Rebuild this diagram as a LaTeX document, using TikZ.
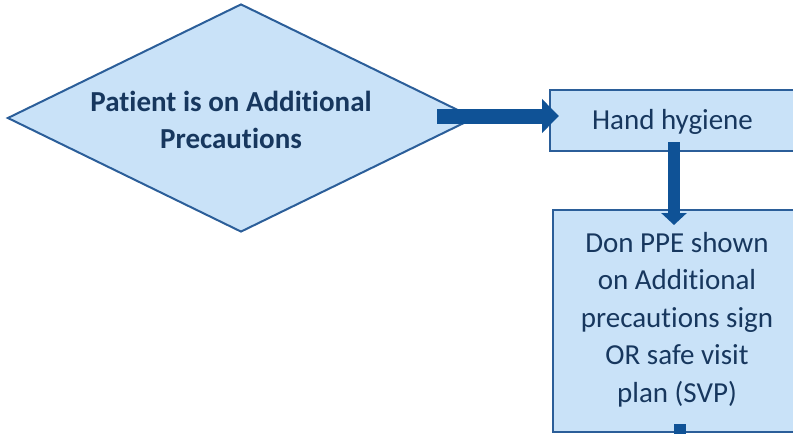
\documentclass[tikz,border=0pt]{standalone}
\usepackage{fontspec}
\setmainfont{Carlito}[Ligatures=NoCommon]
\usetikzlibrary{arrows.meta,shapes.geometric}
\definecolor{fillb}{HTML}{C9E2F8}
\definecolor{edgeb}{HTML}{2B5E99}
\definecolor{arrb}{HTML}{0F5296}
\definecolor{txtb}{HTML}{17375E}
\begin{document}
\begin{tikzpicture}[x=1pt,y=-1pt,
  shapeedge/.style={draw=edgeb,fill=fillb,line width=2pt,inner sep=0pt},
  dia/.style={shapeedge,diamond,minimum width=467pt,minimum height=228pt},
  box/.style={shapeedge,rectangle},
  lbl/.style={inner sep=0pt,align=center,text=txtb,font=\fontsize{29}{37.5}\selectfont},
  bigarrow/.style={draw=arrb,line width=15pt,-{Triangle[width=33pt,length=17pt]}},
  downarrow/.style={draw=arrb,line width=12pt,-{Triangle[width=25pt,length=12pt]}},
  stub/.style={draw=arrb,line width=12pt}]
\useasboundingbox (0,0) rectangle (793,434);
\clip (0,0) rectangle (793,434);
\node[dia] (dec) at (241,118) {};
\node[box,minimum width=245pt,minimum height=61pt] (hh) at (672.5,120.5) {};
\node[box,minimum width=248pt,minimum height=222pt] (ppe) at (677,321) {};
\node[lbl,font=\fontsize{29}{37.5}\selectfont\bfseries] (dect) at (231,120) {Patient is on Additional\\Precautions};
\node[lbl] (hht) at (672.5,122) {Hand hygiene};
\node[lbl] (ppet) at (677,319.5) {Don PPE shown\\on Additional\\precautions sign\\OR safe visit\\plan (SVP)};
\coordinate (a1s) at ([shift={(196,-2)}]dec.center);
\draw[bigarrow] (a1s) -- ([xshift=10pt]a1s -| hh.west);
\draw[downarrow] ([shift={(1.5,-10)}]hh.south) -- ([shift={(-3,16)}]ppe.north);
\coordinate (stubend) at ([shift={(3,10)}]ppe.south);
\draw[stub] ([shift={(3,-9)}]ppe.south) -- (stubend);
\end{tikzpicture}
\end{document}
